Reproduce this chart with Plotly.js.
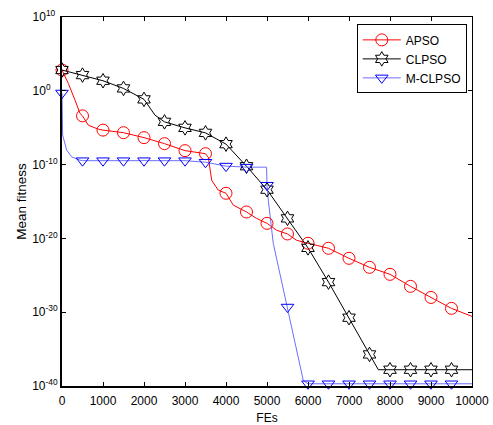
<!DOCTYPE html>
<html>
<head>
<meta charset="utf-8">
<script src="https://cdn.plot.ly/plotly-3.0.1.min.js"></script>
<style>html,body{margin:0;padding:0;background:#fff;}#chart{width:493px;height:425px;}</style>
</head>
<body>
<div id="chart"></div>
<script>
// APSO (dense curve)
const apsoFEs = [0, 154, 317, 439, 500, 641, 885, 1000, 1500, 2000, 2500, 3000, 3500, 3568, 3651, 3812, 4000, 4178, 4500, 4749, 5000, 5237, 5500, 5724, 6000, 6500, 7000, 7500, 8000, 8500, 9000, 9500, 10000];
const apsoFit = [6.5e2, 1.0e1, 5.5e-2, 8.5e-4, 4e-4, 2.2e-5, 6.3e-6, 4.7e-6, 2.1e-6, 4.5e-7, 6.9e-8, 7.8e-9, 3e-9, 1e-9, 7.6e-13, 3.4e-14, 1.3e-14, 3.2e-16, 3.8e-17, 5e-18, 1.1e-18, 1.26e-19, 4e-20, 5.5e-21, 2.2e-21, 4.6e-22, 2e-23, 1.2e-24, 1.35e-25, 3.2e-27, 1e-28, 3.3e-30, 2.7e-31];

// CLPSO
const clpsoFEs = [0, 500, 1000, 1500, 2000, 2268, 2500, 3000, 3500, 4000, 4500, 5000, 5500, 6000, 6500, 7000, 7500, 7715, 8000, 8500, 9000, 9500, 10000];
const clpsoFit = [6.5e2, 1.35e2, 2.3e1, 2.1, 6.9e-2, 5e-4, 6.2e-5, 9.5e-6, 2e-6, 5.9e-8, 6e-11, 4e-14, 5.2e-18, 5.2e-22, 1.2e-26, 1.8e-31, 1.9e-36, 1.6e-38, 1.6e-38, 1.6e-38, 1.6e-38, 1.6e-38, 1.6e-38];

// M-CLPSO
const mclpsoFEs = [0, 15, 115, 237, 439, 500, 1000, 1500, 2000, 2500, 3000, 3500, 4000, 4500, 4990, 5000, 5032, 5154, 5244, 5500, 5885, 6000, 6500, 7000, 7500, 8000, 8500, 9000, 9500, 10000];
const mclpsoFit = [5e-1, 1e-6, 9e-9, 1.1e-9, 4e-10, 3.4e-10, 3.4e-10, 3.4e-10, 3.4e-10, 3.4e-10, 3.4e-10, 2.1e-10, 6.3e-11, 4.5e-11, 4.5e-11, 1.6e-13, 1.5e-15, 2e-21, 1.07e-23, 5e-30, 5.6e-40, 2e-40, 2e-40, 2e-40, 2e-40, 2e-40, 2e-40, 2e-40, 2e-40, 2e-40];

const seriesNames = ['APSO', 'CLPSO', 'M-CLPSO'];
const xTickVals = [0, 1000, 2000, 3000, 4000, 5000, 6000, 7000, 8000, 9000, 10000];
const xTickText = ['0', '1000', '2000', '3000', '4000', '5000', '6000', '7000', '8000', '9000', '10000'];
const yTickVals = [1e-40, 1e-30, 1e-20, 1e-10, 1e0, 1e10];
const yTickText = ['10<sup>-40</sup>', '10<sup>-30</sup>', '10<sup>-20</sup>', '10<sup>-10</sup>', '10<sup>0\u00A0\u00A0\u00A0</sup>', '10<sup>10\u00A0</sup>'];

const markerStep = 500;
function markerPts(xs, ys) {
  const mx = [], my = [];
  xs.forEach((x, i) => { if (x % markerStep === 0 && x < 10000) { mx.push(x); my.push(ys[i]); } });
  return {x: mx, y: my};
}

const styles = [
  {color: '#ff0000', lineColor: '#ff0000', symbol: 'circle-open', size: 12},
  {color: '#000000', lineColor: '#000000', symbol: 'hexagram-open', size: 11},
  {color: '#0000ff', lineColor: 'rgb(110,110,255)', symbol: 'triangle-down-open', size: 11}
];
const data = [[apsoFEs, apsoFit], [clpsoFEs, clpsoFit], [mclpsoFEs, mclpsoFit]];

const traces = [];
data.forEach((d, i) => {
  const s = styles[i];
  traces.push({x: d[0], y: d[1], mode: 'lines', type: 'scatter', showlegend: false,
    line: {color: s.lineColor, width: 1}, hoverinfo: 'skip'});
});
data.forEach((d, i) => {
  const s = styles[i];
  const m = markerPts(d[0], d[1]);
  traces.push({x: m.x, y: m.y, mode: 'markers', type: 'scatter', showlegend: false, cliponaxis: false,
    marker: {symbol: s.symbol, size: s.size, color: s.color, line: {color: s.color, width: 1}}});
});
data.forEach((d, i) => {
  const s = styles[i];
  traces.push({x: [null], y: [null], xaxis: 'x2', yaxis: 'y2', mode: 'lines+markers', type: 'scatter', name: seriesNames[i],
    line: {color: s.lineColor, width: 1},
    marker: {symbol: s.symbol, size: s.size, color: s.color, line: {color: s.color, width: 1}}});
});

const font = {family: 'Liberation Sans, Arial, sans-serif', size: 12, color: '#000'};
const layout = {
  width: 493, height: 425,
  margin: {l: 62, r: 21, t: 17, b: 39},
  paper_bgcolor: '#fff', plot_bgcolor: '#fff',
  font: font,
  showlegend: true,
  legend: {x: 0.719, y: 0.98, xanchor: 'left', yanchor: 'top', bgcolor: '#fff', bordercolor: '#000', borderwidth: 1,
    font: font, itemwidth: 38, tracegroupgap: 0},
  xaxis: {range: [0, 10000], tickvals: xTickVals, ticktext: xTickText, ticks: 'inside', ticklen: 4, tickcolor: '#000',
    ticklabelstandoff: 3,
    showline: true, linecolor: '#000', linewidth: 2, showgrid: false, zeroline: false,
    tickfont: font, title: {text: 'FEs', font: font, standoff: 8}},
  yaxis: {type: 'log', range: [-40, 10], tickvals: yTickVals, ticktext: yTickText, ticks: 'inside', ticklen: 4, tickcolor: '#000',
    showline: true, linecolor: '#000', linewidth: 2, showgrid: false, zeroline: false,
    tickfont: font, title: {text: 'Mean fitness', font: {family: font.family, size: 13.5, color: '#000'}, standoff: 2}},
  xaxis2: {overlaying: 'x', side: 'top', anchor: 'y2', range: [0, 10000], tickvals: xTickVals, ticks: 'inside', ticklen: 4, tickcolor: '#000',
    showline: true, linecolor: '#000', linewidth: 1, showgrid: false, zeroline: false, showticklabels: false},
  yaxis2: {overlaying: 'y', side: 'right', anchor: 'x2', type: 'log', range: [-40, 10], tickvals: yTickVals, ticks: 'inside', ticklen: 4, tickcolor: '#000',
    showline: true, linecolor: '#000', linewidth: 1, showgrid: false, zeroline: false, showticklabels: false}
};

Plotly.newPlot('chart', traces, layout, {displayModeBar: false, staticPlot: true});
</script>
</body>
</html>
